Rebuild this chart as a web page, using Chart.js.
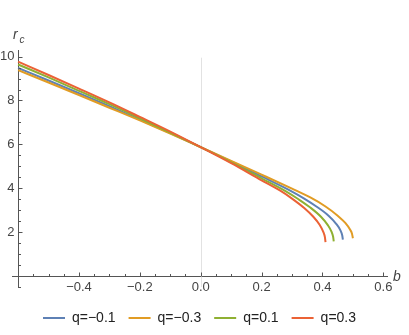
<!DOCTYPE html>
<html>
<head>
<meta charset="utf-8">
<title>r_c vs b</title>
<script src="https://cdn.jsdelivr.net/npm/chart.js"></script>
<style>
  body { margin: 0; background: #fff; }
</style>
</head>
<body>
<canvas id="myChart" width="409" height="335"></canvas>
<script>
// values
const seriesNames = ['q=\u22120.1', 'q=\u22120.3', 'q=0.1', 'q=0.3'];
const seriesColors = ['#5e81b5', '#e19c24', '#8fb032', '#eb6235'];

const bQm01 = [-0.6, -0.5, -0.4, -0.3, -0.2, -0.1, 0, 0.1, 0.2, 0.3, 0.34, 0.38, 0.42, 0.445, 0.459, 0.465, 0.467];
const rQm01 = [9.48, 8.91, 8.33, 7.74, 7.13, 6.51, 5.87, 5.22, 4.54, 3.85, 3.53, 3.17, 2.75, 2.38, 2.08, 1.85, 1.66];

const bQm03 = [-0.6, -0.5, -0.4, -0.3, -0.2, -0.1, 0, 0.1, 0.2, 0.3, 0.36, 0.41, 0.45, 0.475, 0.49, 0.497, 0.5];
const rQm03 = [9.38, 8.82, 8.25, 7.67, 7.09, 6.49, 5.87, 5.25, 4.62, 3.98, 3.58, 3.17, 2.75, 2.42, 2.13, 1.93, 1.72];

const bQp01 = [-0.6, -0.5, -0.4, -0.3, -0.2, -0.1, 0, 0.1, 0.2, 0.28, 0.32, 0.36, 0.395, 0.417, 0.43, 0.435, 0.437];
const rQp01 = [9.64, 9.05, 8.44, 7.83, 7.19, 6.54, 5.87, 5.18, 4.45, 3.86, 3.51, 3.12, 2.70, 2.33, 2.01, 1.79, 1.58];

const bQp03 = [-0.6, -0.5, -0.4, -0.3, -0.2, -0.1, 0, 0.1, 0.2, 0.26, 0.3, 0.34, 0.37, 0.39, 0.403, 0.408, 0.41];
const rQp03 = [9.77, 9.16, 8.54, 7.91, 7.25, 6.58, 5.87, 5.14, 4.36, 3.90, 3.53, 3.10, 2.70, 2.35, 2.00, 1.77, 1.54];

const xTicks = [-0.4, -0.2, 0, 0.2, 0.4, 0.6];
const yTicks = [2, 4, 6, 8, 10];

const bLists = [bQm01, bQm03, bQp01, bQp03];
const rLists = [rQm01, rQm03, rQp01, rQp03];

function toPoints(bs, rs) {
  return bs.map((b, i) => ({x: b, y: rs[i]}));
}

const axisColor = '#555';
const labelColor = '#444';

// Mathematica-like tick marks, zero line and axis labels
const mmaAxes = {
  id: 'mmaAxes',
  beforeDatasetsDraw(chart) {
    const ctx = chart.ctx;
    const xs = chart.scales.x, ys = chart.scales.y;
    const x0 = Math.round(xs.getPixelForValue(0)) + 0.5;
    ctx.save();
    ctx.strokeStyle = '#e2e2e2';
    ctx.lineWidth = 1;
    ctx.beginPath();
    ctx.moveTo(x0, ys.getPixelForValue(9.95));
    ctx.lineTo(x0, chart.chartArea.bottom);
    ctx.stroke();
    ctx.restore();
  },
  afterDraw(chart) {
    const ctx = chart.ctx;
    const xs = chart.scales.x, ys = chart.scales.y;
    const xAxisY = Math.round(ys.getPixelForValue(0)) + 0.5;
    const yAxisX = Math.round(xs.getPixelForValue(-0.6)) + 0.5;
    ctx.save();
    ctx.strokeStyle = axisColor;
    ctx.lineWidth = 1;
    ctx.beginPath();
    for (let k = -11; k <= 12; k++) {
      const px = Math.round(xs.getPixelForValue(k * 0.05)) + 0.5;
      const len = (k % 4 === 0) ? 4 : 2.5;
      ctx.moveTo(px, xAxisY);
      ctx.lineTo(px, xAxisY - len);
    }
    for (let k = -1; k <= 20; k++) {
      if (k === 0) continue;
      const py = Math.round(ys.getPixelForValue(k * 0.5)) + 0.5;
      const len = (k % 4 === 0) ? 4 : 2.5;
      ctx.moveTo(yAxisX, py);
      ctx.lineTo(yAxisX + len, py);
    }
    ctx.stroke();

    // axis labels
    ctx.fillStyle = labelColor;
    ctx.textBaseline = 'alphabetic';
    ctx.textAlign = 'left';
    ctx.font = 'italic 14px "Liberation Sans", Arial, sans-serif';
    ctx.fillText('r', 13, 39);
    ctx.font = 'italic 10px "Liberation Sans", Arial, sans-serif';
    ctx.fillText('c', 19.5, 43);
    ctx.font = 'italic 14px "Liberation Sans", Arial, sans-serif';
    ctx.fillText('b', 393, xAxisY + 4);
    ctx.restore();
  }
};

const ctx = document.getElementById('myChart');
const myChart = new Chart(ctx, {
  type: 'line',
  data: {
    datasets: seriesNames.map((name, i) => ({
      label: name,
      data: toPoints(bLists[i], rLists[i]),
      borderColor: seriesColors[i],
      backgroundColor: seriesColors[i],
      borderWidth: 2,
      pointRadius: 0,
      fill: false,
      cubicInterpolationMode: 'monotone',
      order: 4 - i
    }))
  },
  options: {
    responsive: false,
    animation: false,
    events: [],
    layout: { padding: { left: 12, right: 22, top: 50, bottom: 0 } },
    scales: {
      x: {
        type: 'linear',
        min: -0.62,
        max: 0.612,
        position: { y: 0 },
        afterBuildTicks: s => { s.ticks = xTicks.map(v => ({value: v})); },
        ticks: {
          color: labelColor,
          padding: 4,
          maxRotation: 0,
          autoSkip: false,
          font: { family: '"Liberation Sans", Arial, sans-serif', size: 13 },
          callback: v => (v < 0 ? '\u2212' : '') + Math.abs(v).toFixed(1)
        },
        grid: { drawOnChartArea: false, drawTicks: false },
        border: { color: axisColor, width: 1 }
      },
      y: {
        type: 'linear',
        min: -0.5,
        max: 10.3,
        position: { x: -0.6 },
        afterBuildTicks: s => { s.ticks = yTicks.map(v => ({value: v})); },
        ticks: {
          color: labelColor,
          padding: 0,
          autoSkip: false,
          font: { family: '"Liberation Sans", Arial, sans-serif', size: 13 },
          // trailing space keeps the label off the axis line
          callback: v => String(v) + ' '
        },
        grid: { drawOnChartArea: false, drawTicks: false },
        border: { color: axisColor, width: 1 }
      }
    },
    plugins: {
      tooltip: { enabled: false },
      legend: {
        position: 'bottom',
        title: { display: true, text: '', padding: 0, font: { size: 10, lineHeight: 1.1 } },
        labels: {
          usePointStyle: true,
          pointStyle: 'line',
          pointStyleWidth: 22,
          padding: 13,
          color: '#222',
          font: { family: '"Liberation Sans", Arial, sans-serif', size: 14 },
          sort: (a, b) => a.datasetIndex - b.datasetIndex
        }
      }
    }
  },
  plugins: [mmaAxes]
});
</script>
</body>
</html>
